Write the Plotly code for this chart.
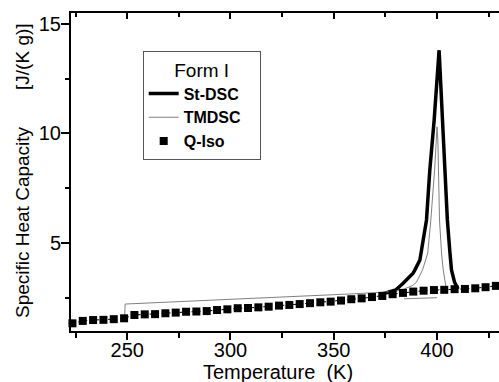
import plotly.graph_objects as go

# ---- data ----
qiso_T = [223.5, 228.5, 233.5, 238.5, 243.5, 248.5, 253.5, 258.5, 263.5, 268.5,
          273.5, 278.5, 283.5, 288.5, 293.5, 298.5, 303.5, 308.5, 313.5, 318.5,
          323.5, 328.5, 333.5, 338.5, 343.5, 348.5, 353.5, 358.5, 363.5, 368.5,
          373.5, 378.5, 383.5, 388.5, 393.5, 398.5, 403.5, 408.5, 413.5, 418.5,
          423.5, 428.5]
qiso_cp = [1.33, 1.44, 1.48, 1.49, 1.52, 1.56, 1.71, 1.74, 1.75, 1.79,
           1.82, 1.86, 1.87, 1.89, 1.94, 1.97, 2.02, 2.03, 2.06, 2.09,
           2.14, 2.17, 2.21, 2.25, 2.29, 2.32, 2.37, 2.43, 2.47, 2.53,
           2.58, 2.66, 2.72, 2.78, 2.82, 2.85, 2.86, 2.89, 2.90, 2.93,
           2.98, 3.04]

stdsc_T = [374.0, 380.0, 383.6, 386.5, 388.4, 389.3, 391.7, 392.5, 394.9, 396.5,
           398.6, 401.0, 402.6, 403.7, 405.0, 406.2, 407.0, 408.5, 410.2]
stdsc_cp = [2.68, 2.85, 3.16, 3.45, 3.62, 3.77, 4.22, 4.68, 6.05, 8.33,
            10.6, 13.8, 10.6, 8.33, 6.05, 4.6, 3.77, 3.2, 2.9]

tmdsc_T = [248.8, 249.0, 270.0, 300.0, 335.0, 360.0, 375.0, 380.0, 383.6, 388.0,
           390.0, 393.0, 395.5, 397.0, 398.8, 399.6, 400.0, 400.4, 401.2, 402.2,
           403.0, 404.3, None, 384.0, 392.0, 400.0]
tmdsc_cp = [1.66, 2.21, 2.30, 2.42, 2.58, 2.68, 2.76, 2.80, 2.88, 3.05,
            3.2, 3.77, 4.54, 6.05, 8.3, 9.7, 10.3, 9.7, 6.05, 4.5,
            3.77, 3.0, None, 2.45, 2.47, 2.50]

x_ticks = [250, 300, 350, 400]
x_minor = [225, 275, 325, 375, 425]
y_ticks = [5, 10, 15]
y_minor = [2.5, 7.5, 12.5]

FONT = "Liberation Sans, Arial, sans-serif"
PAD = "\u00a0\u00a0\u00a0"

fig = go.Figure()

# Q-Iso connecting dotted line
fig.add_trace(go.Scatter(x=qiso_T, y=qiso_cp, mode="lines",
                         line=dict(color="black", width=1, dash="dot"),
                         showlegend=False, hoverinfo="skip"))
fig.add_trace(go.Scatter(x=stdsc_T, y=stdsc_cp, mode="lines", name="<b>St-DSC</b>" + PAD,
                         line=dict(color="black", width=3.5)))
fig.add_trace(go.Scatter(x=tmdsc_T, y=tmdsc_cp, mode="lines", name="<b>TMDSC</b>" + PAD,
                         line=dict(color="#808080", width=1)))
fig.add_trace(go.Scatter(x=qiso_T, y=qiso_cp, mode="markers", name="<b>Q-Iso</b>",
                         marker=dict(symbol="square", size=8, color="black"),
                         cliponaxis=False))
# invisible trace to anchor the top axis
fig.add_trace(go.Scatter(x=[300], y=[5], xaxis="x2", mode="markers",
                         marker=dict(opacity=0), showlegend=False, hoverinfo="skip"))

fig.update_layout(
    width=499, height=382,
    margin=dict(l=71, r=0, t=13, b=51),
    paper_bgcolor="white", plot_bgcolor="white",
    font=dict(family=FONT, color="black"),
    xaxis=dict(range=[222.8, 430], tickvals=x_ticks, ticks="outside", ticklen=7,
               tickwidth=1.5, tickcolor="black", showline=True, linewidth=2,
               linecolor="black", showgrid=False, zeroline=False,
               ticklabelstandoff=-7,
               tickfont=dict(size=20, family=FONT),
               minor=dict(tickvals=x_minor, ticks="outside", ticklen=5,
                          tickwidth=1.5, tickcolor="black", showgrid=False)),
    xaxis2=dict(overlaying="x", matches="x", side="top", tickvals=x_ticks,
                ticks="inside", ticklen=6, tickwidth=1.5, tickcolor="black",
                showticklabels=False, showline=True, linewidth=2, linecolor="black",
                showgrid=False, zeroline=False,
                minor=dict(tickvals=x_minor, ticks="inside", ticklen=4,
                           tickwidth=1.5, tickcolor="black", showgrid=False)),
    yaxis=dict(range=[0.98, 15.5], tickvals=y_ticks, ticks="outside", ticklen=8,
               tickwidth=1.5, tickcolor="black", showline=True, linewidth=2,
               linecolor="black", showgrid=False, zeroline=False,
               ticklabelstandoff=-4,
               tickfont=dict(size=20, family=FONT),
               minor=dict(tickvals=y_minor, ticks="outside", ticklen=4,
                          tickwidth=1.5, tickcolor="black", showgrid=False)),
    legend=dict(x=0.1675, y=0.881, xanchor="left", yanchor="top",
                bgcolor="white", bordercolor="#555555", borderwidth=1,
                font=dict(size=16, family=FONT),
                title=dict(text="Form I", side="top center",
                           font=dict(size=19, family=FONT))),
    annotations=[
        dict(text="Temperature\u00a0\u00a0(K)", xref="paper", yref="paper",
             x=0.4825, y=0, xanchor="center", yanchor="middle", yshift=-41,
             showarrow=False, font=dict(size=20, family=FONT)),
        dict(text="Specific Heat Capacity" + "\u00a0" * 7 + "[J/(K g)]",
             xref="paper", yref="paper", x=0, y=0.503, xshift=-49,
             xanchor="center", yanchor="middle", textangle=-90,
             showarrow=False, font=dict(size=19, family=FONT)),
    ],
)

fig.write_html("out.html", config={"displayModeBar": False},
               post_script="document.body.style.margin='0';document.body.style.overflow='hidden';")
